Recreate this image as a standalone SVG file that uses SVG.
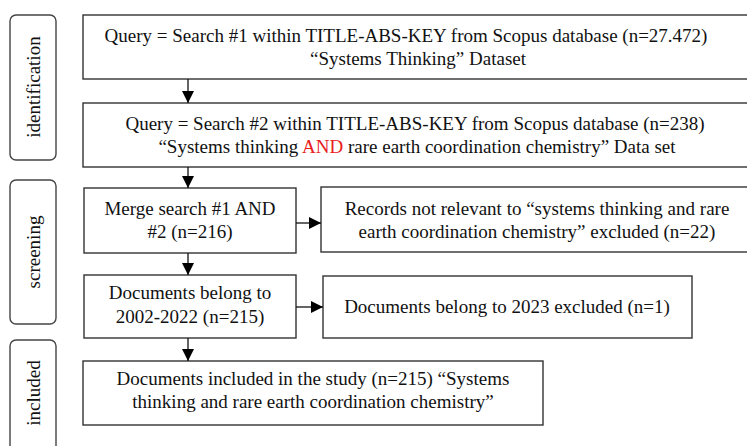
<svg xmlns="http://www.w3.org/2000/svg" width="747" height="446" viewBox="0 0 747 446">
<defs>
<style>
.box{fill:#fff;stroke:#333;stroke-width:1.4}
.side{fill:#fff;stroke:#444;stroke-width:1.4}
.t{font-family:"Liberation Serif","Times New Roman",serif;font-size:19px;fill:#111;text-anchor:middle}
.c{stroke:#111;stroke-width:1.3;fill:none}
</style>
<marker id="ah" viewBox="0 0 12 12" refX="12" refY="6" markerWidth="12" markerHeight="12" markerUnits="userSpaceOnUse" orient="auto">
<path d="M0,0 L12,6 L0,12 Z" fill="#000"/>
</marker>
</defs>
<rect width="747" height="446" fill="#fff"/>
<g id="stage-identification">
<rect class="side" x="10" y="15" width="46" height="145" rx="6"/>
<text class="t" transform="translate(40,87) rotate(-90)">identification</text>
</g>
<g id="stage-screening">
<rect class="side" x="10" y="180" width="46" height="144" rx="6"/>
<text class="t" transform="translate(40,252) rotate(-90)">screening</text>
</g>
<g id="stage-included">
<rect class="side" x="10" y="340" width="46" height="120" rx="6"/>
<text class="t" transform="translate(40,393) rotate(-90)">included</text>
</g>
<g id="search1">
<rect class="box" x="83" y="15" width="670" height="64"/>
<text class="t" x="406" y="42">Query = Search #1 within TITLE-ABS-KEY from Scopus database (n=27.472)</text>
<text class="t" x="418" y="65">“Systems Thinking” Dataset</text>
</g>
<g id="search2">
<rect class="box" x="83" y="103" width="670" height="64"/>
<text class="t" x="415" y="130">Query = Search #2 within TITLE-ABS-KEY from Scopus database (n=238)</text>
<text class="t" x="417" y="153">“Systems thinking <tspan fill="#e8201c">AND</tspan> rare earth coordination chemistry” Data set</text>
</g>
<g id="merge">
<rect class="box" x="84" y="188" width="212" height="65"/>
<text class="t" x="190" y="215">Merge search #1 AND</text>
<text class="t" x="190" y="238">#2 (n=216)</text>
</g>
<g id="excluded-irrelevant">
<rect class="box" x="321" y="187" width="432" height="65"/>
<text class="t" x="537" y="215">Records not relevant to “systems thinking and rare</text>
<text class="t" x="537" y="238">earth coordination chemistry” excluded (n=22)</text>
</g>
<g id="years">
<rect class="box" x="84" y="275" width="212" height="63"/>
<text class="t" x="190" y="299">Documents belong to</text>
<text class="t" x="190" y="323">2002-2022 (n=215)</text>
</g>
<g id="excluded-2023">
<rect class="box" x="323" y="276" width="369" height="62"/>
<text class="t" x="507" y="313">Documents belong to 2023 excluded (n=1)</text>
</g>
<g id="included">
<rect class="box" x="83" y="361" width="460" height="64"/>
<text class="t" x="313" y="385">Documents included in the study (n=215) “Systems</text>
<text class="t" x="313" y="408">thinking and rare earth coordination chemistry”</text>
</g>
<g id="connectors">
<line class="c" x1="188" y1="79" x2="188" y2="103" marker-end="url(#ah)"/>
<line class="c" x1="188" y1="167" x2="188" y2="188" marker-end="url(#ah)"/>
<line class="c" x1="188" y1="253" x2="188" y2="275" marker-end="url(#ah)"/>
<line class="c" x1="188" y1="338" x2="188" y2="361" marker-end="url(#ah)"/>
<line class="c" x1="296" y1="223" x2="321" y2="223" marker-end="url(#ah)"/>
<line class="c" x1="296" y1="307" x2="323" y2="307" marker-end="url(#ah)"/>
</g>
</svg>
